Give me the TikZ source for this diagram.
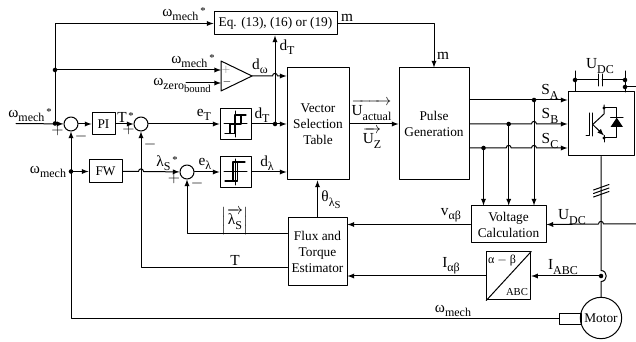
\documentclass[tikz,border=0pt]{standalone}
\usepackage{amsmath,amssymb}
\usepackage{fontspec}
\setmainfont{Liberation Serif}
\usepackage{tikz}
\usetikzlibrary{calc}
\newcommand{\sbs}[1]{\raisebox{-0.6ex}{\small #1}}
\newcommand{\ssbs}[1]{\raisebox{-0.5ex}{\footnotesize #1}}
\newcommand{\str}{\raisebox{0.35ex}{\footnotesize\,*}}
\newcommand{\omech}{ω\sbs{mech}}
\tikzset{
	blockbox/.style={draw,inner sep=0pt,align=center},
	sumnode/.style={draw,circle,minimum size=10.5pt,inner sep=0pt},
	lab/.style={inner sep=0pt,font=\fontsize{11.5}{13}\selectfont},
	conn/.style={->,>=latex},
	hysline/.style={line width=0.9pt},
	hopr/.style={insert path={.. controls +(0,-3.5) and +(0,-3.5) .. ++(5,0)}},
	hopl/.style={insert path={.. controls +(0,-3.5) and +(0,-3.5) .. ++(-5,0)}}
}
\begin{document}
\begin{tikzpicture}[x=0.75pt,y=-0.75pt,line width=0.75pt,line cap=round,line join=round]
			\useasboundingbox (0,0) rectangle (636,342);
			% blocks
			\node[blockbox,minimum width=92.25pt,minimum height=17.25pt] (eq) at (275.5,23.5) {Eq. (13), (16) or (19)};
			\node[blockbox,minimum width=17.25pt,minimum height=16.5pt] (pi) at (103.5,124) {PI};
			\node[blockbox,minimum width=24.75pt,minimum height=17.25pt] (fw) at (105.5,171.5) {FW};
			\node[blockbox,minimum width=23.25pt,minimum height=23.25pt] (hysT) at (235.5,124) {};
			\node[blockbox,minimum width=23.25pt,minimum height=23.25pt] (hysL) at (235.5,172) {};
			\node[blockbox,minimum width=46.5pt,minimum height=84pt] (vst) at (318,124) {Vector\\Selection\\Table};
			\node[blockbox,minimum width=52.5pt,minimum height=84pt] (pulse) at (434,124) {Pulse\\Generation};
			\node[blockbox,minimum width=44.25pt,minimum height=51pt] (flux) at (317.5,252) {Flux and\\Torque\\Estimator};
			\node[blockbox,minimum width=56.25pt,minimum height=27.75pt] (volt) at (508.5,224.5) {Voltage\\Calculation};
			\node[blockbox,minimum width=33pt,minimum height=36pt] (conv) at (508.75,276) {};
			\node[blockbox,minimum width=49.5pt,minimum height=48pt] (inv) at (601,124) {};
			\node[blockbox,circle,minimum size=31pt] (motor) at (601,318) {Motor};
			\node[blockbox,minimum width=17pt,minimum height=8.25pt] (shaft) at (570.5,318.5) {};
			% summing points
			\node[sumnode] (sumA) at (71,124) {};
			\node[sumnode] (sumB) at (141,124) {};
			\node[sumnode] (sumC) at (187,172) {};
			% comparator
			\coordinate (compP) at (221,70);
			\coordinate (compN) at (221,83);
			\coordinate (compO) at (252,76);
			\draw (221,61) -- (221,91) -- (compO) -- cycle;
			% junctions and free ends
			\coordinate (inL) at (16,123.5);
			\coordinate (jIn) at (55,123.5);
			\coordinate (jOm) at (55,70);
			\coordinate (jFw) at (71,171.5);
			\coordinate (jT) at (275,124);
			\coordinate (zeroL) at (186,83);
			\coordinate (jSA) at (534,100);
			\coordinate (jSB) at (508.7,124);
			\coordinate (jSC) at (483.5,148);
			\coordinate (jI) at (601,276);
			\coordinate (capL) at (575,80);
			\coordinate (capR) at (625,80);
			\coordinate (dcR) at (625,87);
			\coordinate (dcEnd) at (636,87);
			\coordinate (udcEnd) at (636,224);
			% speed paths
			\draw[conn] (inL) -- (sumA);
			\draw (jIn) -- (jOm);
			\draw[conn] (jOm) |- (eq.west);
			\draw[conn] (jOm) -- (compP);
			\draw[conn] (zeroL) -- (compN);
			\draw[conn] (sumA) -- (pi);
			\draw[conn] (pi) -- (sumB);
			\draw[conn] (sumB) -- (hysT);
			\draw[conn] (hysT) -- (vst.west);
			\draw[conn] (jT) -- (jT |- eq.south);
			\draw[conn] (compO) -- (272.5,76) [hopr] -- (compO -| vst.west);
			\draw[conn] (eq.east) -| (pulse.north);
			\draw[conn] (jFw) -- (fw);
			\draw[conn] (jFw) -- (sumA);
			\draw (jFw) |- (shaft.west);
			\draw[conn] (fw) -- (138.5,171.5) [hopr] -- (sumC);
			\draw[conn] (sumC) -- (hysL);
			\draw[conn] (hysL) -- (hysL -| vst.west);
			% feedback
			\draw[conn] (flux.west |- 0,234) -| (sumC);
			\draw[conn] (flux.west |- 0,268) -| (sumB);
			\draw[conn] (flux.north) -- (flux.north |- vst.south);
			\draw[conn] (vst) -- (pulse);
			% switching signals
			\draw[conn] (pulse.east |- jSA) -- (jSA -| inv.west);
			\draw[conn] (pulse.east |- jSB) -- (531.5,124) [hopr] -- (jSB -| inv.west);
			\draw[conn] (pulse.east |- jSC) -- (506.2,148) [hopr] -- (531.5,148) [hopr] -- (jSC -| inv.west);
			\draw[conn] (jSA) -- (jSA |- volt.north);
			\draw[conn] (jSB) -- (jSB |- volt.north);
			\draw[conn] (jSC) -- (jSC |- volt.north);
			\draw[conn] (volt.west) -- (volt.west -| flux.east);
			\draw[conn] (udcEnd) -- (603.5,224) [hopl] -- (volt.east);
			% motor side
			\draw (inv.south) -- (601,270.5) .. controls +(7,0) and +(7,0) .. (601,281.5) -- (motor.north);
			\draw[conn] (jI) -- (conv.east);
			\draw[conn] (conv.west) -- (conv.west -| flux.east);
			\draw (conv.south west) -- (conv.north east);
			\draw (593.5,190) -- (609,184.5);
			\draw (593.5,193.5) -- (609,188);
			\draw (593.5,197) -- (609,191.5);
			% dc link
			\draw (capL |- inv.north) -- (575,71);
			\draw (625,71) -- (625,92);
			\draw (capL) -- (598,80) (602,80) -- (capR);
			\draw (598,74) -- (598,86) (602,74) -- (602,86);
			\draw (dcR) -- (dcEnd);
			% dots
			\foreach \p in {jIn,jOm,jFw,jT,jSA,jSB,jSC,jI,capL,capR,dcR}
				\fill (\p) circle (1.7pt);
			% hysteresis symbols
			\draw (224,124) -- (247,124) (235.5,111) -- (235.5,137);
			\draw[hysline] (225,133.5) -- (235,133.5) (230,133.5) -- (230,124) -- (241,124) (235,133.5) -- (235,115) -- (246,115) (241,124) -- (241,115);
			\draw (224,172) -- (247,172) (235.5,159) -- (235.5,185);
			\draw[hysline] (225,181) -- (237.5,181) -- (237.5,162) (233,181) -- (233,162) -- (245,162);
			% igbt
			\draw (589,113) -- (589,135.5) -- (586,135.5);
			\draw (592.7,113) -- (592.7,136);
			\draw (592.7,124.5) -- (604,114) -- (604,105);
			\draw[->,>=latex] (592.7,124.5) -- (604,135.5);
			\draw (604,135.5) -- (604,142);
			\draw (604,108) -- (616.7,108) -- (616.7,138) -- (604,138);
			\fill (604,108) circle (1.2pt) (604,138) circle (1.2pt);
			\fill (616.7,117.7) -- (610.5,127) -- (623,127) -- cycle;
			\draw (610.5,117.7) -- (623,117.7);
			% labels
			\node[lab] (lOmA) at (184,14) {\omech\str};
			\node[lab] (lOmB) at (193,61) {\omech\str};
			\node[lab] (lZero) at (182,85) {ω\sbs{zero\ssbs{bound}}};
			\node[lab] (lOmC) at (30,115) {\omech\str};
			\node[lab] (lPlusA) at (57.5,131) {$+$};
			\node[lab] (lMinA) at (81,137) {$-$};
			\node[lab] (lTs) at (125.5,117) {T\str};
			\node[lab] (lPlusB) at (128.5,130) {$+$};
			\node[lab] (lMinB) at (150,145) {$-$};
			\node[lab] (lEt) at (204,115) {e\sbs{T}};
			\node[lab] (lDtA) at (262,115) {d\sbs{T}};
			\node[lab] (lDtB) at (287,47) {d\sbs{T}};
			\node[lab] (lDw) at (260,66) {d\sbs{ω}};
			\node[lab] (lMa) at (347,18) {m};
			\node[lab] (lMb) at (443,56) {m};
			\node[lab] (lUa) at (371.5,110) {$\overrightarrow{\text{U\sbs{actual}}}$};
			\node[lab] (lUz) at (372,138) {$\overrightarrow{\text{U\sbs{Z}}}$};
			\node[lab] (lSa) at (550,92) {S\sbs{A}};
			\node[lab] (lSb) at (550,116) {S\sbs{B}};
			\node[lab] (lSc) at (550,141) {S\sbs{C}};
			\node[lab] (lUdcA) at (600,66) {U\sbs{DC}};
			\node[lab] (lOmD) at (48,172) {\omech};
			\node[lab] (lLs) at (167,163) {λ\sbs{S}\str};
			\node[lab] (lPlusC) at (174,179) {$+$};
			\node[lab] (lMinC) at (197,184) {$-$};
			\node[lab] (lEl) at (205,164) {e\sbs{λ}};
			\node[lab] (lDl) at (267,163) {d\sbs{λ}};
			\node[lab] (lTh) at (331,200) {θ\sbs{λ\ssbs{S}}};
			\node[lab] (lLa) at (235,221) {$\left|\overrightarrow{\text{λ\sbs{S}}}\right|$};
			\node[lab] (lT) at (235,260) {T};
			\node[lab] (lVab) at (451,215) {v\sbs{αβ}};
			\node[lab] (lUdcB) at (572,217) {U\sbs{DC}};
			\node[lab] (lIab) at (451,266) {I\sbs{αβ}};
			\node[lab] (lIabc) at (563,267) {I\sbs{ABC}};
			\node[lab] (lOmE) at (453,311) {\omech};
			\node[inner sep=0pt] (lConvA) at (502,261) {\small α $-$ β};
			\node[inner sep=0pt] (lConvB) at (517,292) {\footnotesize ABC};
			\node[inner sep=0pt,text=gray] (lCmpP) at (226,70) {\footnotesize $+$};
			\node[inner sep=0pt] (lCmpN) at (227,82) {\footnotesize $-$};
		\end{tikzpicture}
\end{document}
